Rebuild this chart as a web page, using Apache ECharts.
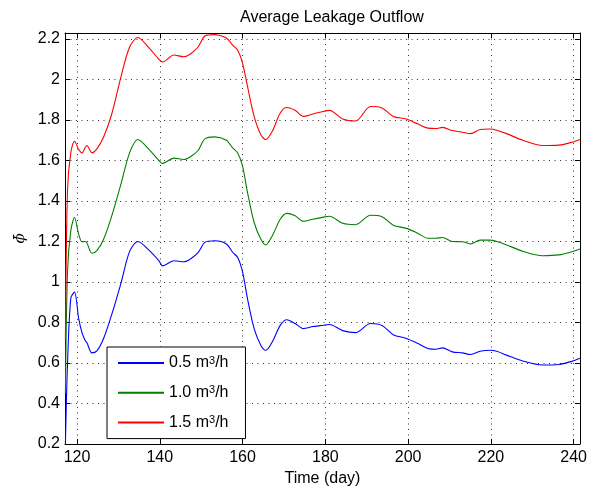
<!DOCTYPE html>
<html>
<head>
<meta charset="utf-8">
<script src="https://cdn.jsdelivr.net/npm/echarts@6/dist/echarts.min.js"></script>
<style>html,body{margin:0;padding:0;background:#fff}#c{width:590px;height:492px}</style>
</head>
<body>
<div id="c"></div>
<script>
const days = [117.2,117.7,118.5,119.4,120.4,121.2,122.0,122.4,123.6,124.8,126.4,128.4,130.7,132.7,134.7,137.5,139.8,140.7,143.4,145.8,147.4,149.3,150.9,153.3,156.1,157.6,158.8,160.0,161.2,162.8,164.4,165.6,167.2,169.1,170.7,172.7,174.7,177.0,179.0,181.0,184.2,187.3,190.9,193.7,196.4,199.6,202.4,204.8,206.7,208.3,210.7,213.1,215.1,217.4,219.8,221.4,223.8,227.7,232.5,236.4,239.6,241.5];
const flow05 = [0.2,0.59,0.92,0.95,0.82,0.75,0.71,0.70,0.65,0.66,0.72,0.84,1.00,1.15,1.20,1.155,1.105,1.08,1.105,1.10,1.114,1.147,1.196,1.204,1.188,1.147,1.122,1.05,0.917,0.77,0.688,0.663,0.705,0.786,0.814,0.795,0.77,0.78,0.785,0.79,0.76,0.75,0.795,0.785,0.74,0.721,0.696,0.672,0.668,0.675,0.655,0.65,0.642,0.658,0.663,0.658,0.639,0.61,0.59,0.593,0.608,0.623];
const flow10 = [0.45,1.05,1.253,1.319,1.237,1.199,1.20,1.193,1.142,1.155,1.21,1.327,1.49,1.638,1.704,1.653,1.60,1.586,1.612,1.605,1.619,1.651,1.707,1.717,1.70,1.663,1.638,1.572,1.442,1.294,1.212,1.183,1.229,1.31,1.339,1.327,1.30,1.31,1.318,1.325,1.29,1.283,1.33,1.323,1.281,1.265,1.24,1.216,1.216,1.22,1.20,1.199,1.188,1.207,1.207,1.20,1.183,1.152,1.13,1.134,1.15,1.163];
const flow15 = [0.72,1.45,1.64,1.695,1.655,1.638,1.665,1.674,1.638,1.658,1.715,1.83,2.02,2.16,2.208,2.154,2.10,2.087,2.121,2.113,2.126,2.162,2.215,2.222,2.205,2.17,2.146,2.08,1.966,1.818,1.728,1.704,1.745,1.835,1.862,1.848,1.818,1.83,1.84,1.848,1.805,1.795,1.867,1.86,1.818,1.805,1.78,1.76,1.758,1.764,1.748,1.74,1.733,1.753,1.756,1.75,1.733,1.70,1.674,1.676,1.69,1.704];
const seriesNames = ['0.5 m3/h','1.0 m3/h','1.5 m3/h'];
const seriesColors = ['#0000ff','#008000','#ff0000'];
const seriesValues = [flow05, flow10, flow15];

const FONT = 'Liberation Sans, Arial, Helvetica, sans-serif';
const chart = echarts.init(document.getElementById('c'), null, {renderer:'canvas'});
const axisLine = {show:true, onZero:false, lineStyle:{color:'#000', width:1}};
const tick = {show:true, inside:true, length:5, lineStyle:{color:'#000'}};
const split = {show:true, lineStyle:{color:'#333', type:[1,4.5], width:1}};
const xBase = {type:'value', min:117.1, max:241.5, splitNumber:6};
const yBase = {type:'value', min:0.2, max:2.23, interval:0.2};
chart.setOption({
  animation:false,
  textStyle:{fontFamily:FONT},
  title:{text:'Average Leakage Outflow', left:235, top:5, textStyle:{fontSize:16, fontWeight:'normal', color:'#000', fontFamily:FONT}},
  grid:{left:65, right:2, top:33, bottom:45, containLabel:false},
  legend:{
    orient:'vertical', left:107, top:347,
    borderColor:'#000', borderWidth:1, backgroundColor:'#fff', borderRadius:0,
    padding:[8,17,8,10], itemWidth:46, itemHeight:14, itemGap:13.8,
    itemStyle:{opacity:0},
    textStyle:{fontSize:16, color:'#000', fontFamily:FONT, rich:{s:{fontSize:11, verticalAlign:'top', color:'#000', fontFamily:FONT}}},
    formatter:function(n){ return n.replace('m3/h','m{s|3}/h'); },
    data:seriesNames
  },
  xAxis:[
    Object.assign({}, xBase, {position:'bottom', name:'Time (day)', nameLocation:'middle', nameGap:27,
      nameTextStyle:{fontSize:16, color:'#000', fontFamily:FONT},
      axisLine:axisLine, axisTick:tick, splitLine:split,
      axisLabel:{fontSize:16, color:'#000', margin:6, showMinLabel:false, showMaxLabel:false, fontFamily:FONT,
        formatter:function(v){ return (Math.abs(v % 20) < 1e-6) ? String(v) : ''; }}}),
    Object.assign({}, xBase, {position:'top', axisLine:axisLine, axisTick:tick, splitLine:{show:false}, axisLabel:{show:false}})
  ],
  yAxis:[
    Object.assign({}, yBase, {position:'left', name:'\u03D5\u0304', nameLocation:'middle', nameGap:37, nameRotate:90,
      nameMoveOverlap:false,
      nameTextStyle:{fontSize:15, color:'#000', fontFamily:'DejaVu Serif, serif', fontStyle:'italic'},
      axisLine:axisLine, axisTick:tick, splitLine:split,
      axisLabel:{fontSize:16, color:'#000', margin:5, showMaxLabel:false, fontFamily:FONT}}),
    Object.assign({}, yBase, {position:'right', axisLine:axisLine, axisTick:tick, splitLine:{show:false}, axisLabel:{show:false}})
  ],
  series: seriesNames.map(function(name, i){
    return {
      name:name, type:'line', xAxisIndex:0, yAxisIndex:0,
      data: days.map(function(d, k){ return [d, seriesValues[i][k]]; }),
      showSymbol:false, symbol:'none', smooth:0.3,
      lineStyle:{color:seriesColors[i], width:1.1}, itemStyle:{color:seriesColors[i]},
      clip:true
    };
  })
});
</script>
</body>
</html>
